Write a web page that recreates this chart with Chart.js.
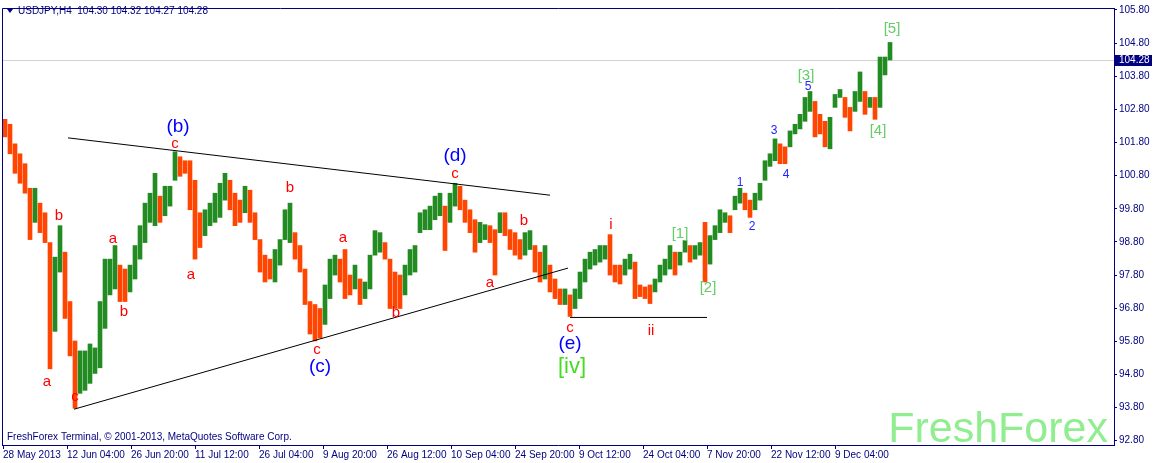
<!DOCTYPE html>
<html>
<head>
<meta charset="utf-8">
<script src="https://cdn.jsdelivr.net/npm/chart.js@4.4.0/dist/chart.umd.min.js"></script>
<style>
  html, body { margin: 0; padding: 0; background: #fff; }
  canvas { display: block; }
</style>
</head>
<body>
<canvas id="chart" width="1154" height="463"></canvas>
<script>
// USDJPY H4, each entry = one block of 5 bars (high / low)
const highs = [
  102.50, 102.35, 101.76, 101.46, 101.16, 100.42, 100.42, 99.97, 99.68, 98.78,
  98.34, 99.29, 98.49, 97.00, 95.81, 95.51, 95.51, 95.72, 95.60, 97.00,
  98.28, 98.28, 98.69, 98.10, 97.98, 98.10, 98.69, 99.29, 99.97, 100.27,
  100.87, 100.18, 100.48, 100.48, 101.52, 101.37, 101.25, 101.25, 100.66, 99.68,
  99.77, 99.97, 100.27, 100.57, 100.87, 100.66, 100.27, 100.06, 100.48, 100.36,
  99.68, 98.87, 98.40, 98.28, 98.57, 98.87, 99.77, 99.97, 99.08, 98.69,
  97.98, 97.00, 96.91, 96.79, 97.50, 98.28, 98.40, 98.28, 98.57, 97.80,
  98.10, 97.68, 97.59, 98.40, 99.14, 99.08, 98.78, 98.28, 97.89, 97.80,
  98.10, 98.57, 98.69, 99.68, 99.77, 99.88, 100.18, 100.27, 99.88, 100.27,
  100.57, 100.48, 100.06, 99.77, 99.47, 99.39, 99.32, 99.29, 99.17, 99.68,
  99.68, 99.17, 99.08, 98.87, 99.08, 99.14, 98.69, 98.49, 98.69, 98.10,
  97.68, 97.38, 97.38, 97.20, 97.38, 97.89, 98.28, 98.49, 98.57, 98.69,
  98.69, 99.02, 98.10, 98.10, 98.28, 98.43, 98.19, 97.50, 97.44, 97.50,
  97.68, 98.10, 98.28, 98.69, 98.49, 98.49, 98.84, 98.69, 98.69, 98.78,
  99.39, 98.99, 99.29, 99.77, 99.68, 99.59, 100.18, 100.42, 100.27, 100.06,
  100.27, 100.57, 101.25, 101.46, 101.91, 101.76, 101.67, 102.15, 102.35, 102.65,
  103.16, 103.34, 103.04, 102.65, 102.44, 102.56, 103.25, 103.40, 103.16, 102.86,
  103.34, 103.93, 103.34, 103.16, 103.16, 104.38, 104.38, 104.82
];
const lows = [
  101.97, 101.46, 100.87, 100.57, 100.27, 98.87, 99.39, 99.08, 98.78, 94.97,
  96.10, 97.89, 96.49, 95.36, 93.78, 94.23, 94.32, 94.53, 94.83, 95.00,
  96.19, 97.20, 97.38, 97.00, 97.00, 97.29, 97.68, 98.28, 98.78, 99.39,
  99.29, 99.39, 99.59, 99.88, 100.66, 100.78, 100.87, 99.77, 98.28, 98.63,
  98.99, 99.29, 99.39, 99.54, 100.06, 99.77, 99.29, 99.39, 99.68, 99.39,
  98.87, 97.89, 97.59, 97.68, 97.59, 98.10, 98.87, 98.78, 98.28, 97.89,
  96.91, 96.02, 95.81, 95.90, 96.31, 97.09, 97.80, 97.59, 97.09, 97.20,
  97.38, 96.91, 97.09, 97.38, 98.40, 98.49, 98.28, 96.79, 96.79, 96.79,
  97.20, 97.80, 97.89, 99.08, 99.17, 99.17, 99.47, 99.59, 98.54, 99.39,
  99.88, 99.77, 99.39, 99.08, 98.49, 98.78, 98.87, 98.78, 97.80, 99.08,
  98.99, 98.57, 98.40, 98.28, 98.40, 98.57, 97.89, 97.59, 97.68, 97.29,
  97.09, 96.91, 96.91, 96.55, 96.79, 97.09, 97.59, 97.98, 98.10, 98.19,
  98.28, 97.80, 97.59, 97.53, 97.80, 97.98, 97.09, 97.15, 97.09, 96.94,
  97.29, 97.59, 97.80, 97.98, 97.80, 98.10, 98.49, 98.19, 98.28, 98.40,
  97.59, 98.13, 98.87, 99.08, 99.39, 99.08, 99.77, 99.97, 99.77, 99.54,
  99.77, 100.06, 100.66, 101.08, 101.25, 101.16, 101.16, 101.67, 102.06, 102.21,
  102.44, 102.74, 101.97, 102.06, 101.67, 101.61, 102.86, 103.16, 102.56, 102.15,
  102.74, 103.04, 102.65, 102.86, 102.50, 102.86, 103.84, 104.29
];

const tickBars = [1, 65, 129, 193, 257, 321, 385, 449, 513, 577, 641, 705, 769, 833];
const tickLabels = [
  "28 May 2013", "12 Jun 04:00", "26 Jun 20:00", "11 Jul 12:00", "26 Jul 04:00",
  "9 Aug 20:00", "26 Aug 12:00", "10 Sep 04:00", "24 Sep 20:00", "9 Oct 12:00",
  "24 Oct 04:00", "7 Nov 20:00", "22 Nov 12:00", "9 Dec 04:00"
];
const priceTicks = [92.8, 93.8, 94.8, 95.8, 96.8, 97.8, 98.8, 99.8, 100.8, 101.8, 102.8, 103.8, 104.8, 105.8];

const quote = ["104.30", "104.32", "104.27", "104.28"];
const lastPrice = 104.28;

// wave marks: text, bar, price, kind
const waveLabels = [
  ["a", 45, 94.59, "minor"], ["b", 57, 99.59, "minor"], ["c", 73, 94.11, "minor"],
  ["(a)", 73, 92.38, "inter"],
  ["a", 111, 98.90, "minor"], ["b", 122, 96.70, "minor"],
  ["c", 173, 101.76, "minor"], ["(b)", 176, 102.29, "inter"],
  ["a", 189, 97.80, "minor"], ["b", 288, 100.42, "minor"], ["a", 341, 98.93, "minor"],
  ["c", 315, 95.54, "minor"], ["(c)", 318, 95.03, "inter"],
  ["b", 394, 96.67, "minor"],
  ["c", 453, 100.84, "minor"], ["(d)", 453, 101.40, "inter"],
  ["a", 488, 97.56, "minor"], ["b", 522, 99.44, "minor"],
  ["c", 568, 96.22, "minor"], ["(e)", 568, 95.72, "inter"], ["[iv]", 570, 95.03, "primary"],
  ["i", 609, 99.32, "minor"], ["ii", 649, 96.13, "minor"],
  ["[1]", 678, 99.05, "major"], ["[2]", 706, 97.41, "major"],
  ["1", 738, 100.60, "sub"], ["2", 750, 99.26, "sub"], ["3", 772, 102.15, "sub"],
  ["4", 784, 100.84, "sub"], ["5", 806, 103.48, "sub"],
  ["[3]", 804, 103.81, "major"], ["[4]", 876, 102.15, "major"], ["[5]", 890, 105.24, "major"]
];

// triangle and base lines: bar1, price1, bar2, price2
const trendLines = [
  [66, 101.94, 548, 100.21],
  [72, 93.75, 566, 98.01],
  [568, 96.52, 705, 96.52]
];

const labelStyles = {
  minor: { color: "#ff0000", font: "15px 'Liberation Sans', Arial, sans-serif" },
  inter: { color: "#0000ff", font: "19px 'Liberation Sans', Arial, sans-serif" },
  primary: { color: "#44dd22", font: "22px 'Liberation Sans', Arial, sans-serif" },
  major: { color: "#66cc66", font: "15px 'Liberation Sans', Arial, sans-serif" },
  sub: { color: "#2222ff", font: "12px 'Liberation Sans', Arial, sans-serif" }
};

const NAVY = "#000080";
const UP = "#228b22";
const DOWN = "#ff4500";

const points = highs.map((h, i) => ({ x: 5 * i + 3, y: [lows[i], h] }));
const colors = highs.map((h, i) => {
  if (i === 0) return DOWN;
  const mid = (h + lows[i]) / 2;
  const prev = (highs[i - 1] + lows[i - 1]) / 2;
  return mid >= prev ? UP : DOWN;
});

const overlay = {
  id: "overlay",
  beforeDraw(chart) {
    const ctx = chart.ctx;
    ctx.save();
    ctx.fillStyle = "#ffffff";
    ctx.fillRect(0, 0, chart.width, chart.height);
    ctx.restore();
  },
  beforeDatasetsDraw(chart) {
    const { ctx, chartArea, scales } = chart;
    ctx.save();
    // current price line
    const py = Math.round(scales.y.getPixelForValue(lastPrice)) + 0.5;
    ctx.strokeStyle = "#d3d3d3";
    ctx.lineWidth = 1;
    ctx.beginPath();
    ctx.moveTo(chartArea.left, py);
    ctx.lineTo(chartArea.right, py);
    ctx.stroke();
    // watermark
    ctx.fillStyle = "#90ee90";
    ctx.font = "43px 'Liberation Sans', Arial, sans-serif";
    ctx.textAlign = "right";
    ctx.textBaseline = "alphabetic";
    ctx.fillText("FreshForex", chartArea.right - 6, chartArea.bottom - 3);
    ctx.restore();
  },
  afterDatasetsDraw(chart) {
    const { ctx, chartArea, scales } = chart;
    const xs = scales.x, ys = scales.y;
    ctx.save();
    ctx.beginPath();
    ctx.rect(chartArea.left, chartArea.top, chartArea.right - chartArea.left, chartArea.bottom - chartArea.top);
    ctx.clip();

    ctx.strokeStyle = "#000000";
    ctx.lineWidth = 1;
    trendLines.forEach(([b1, p1, b2, p2]) => {
      ctx.beginPath();
      ctx.moveTo(xs.getPixelForValue(b1), ys.getPixelForValue(p1));
      ctx.lineTo(xs.getPixelForValue(b2), ys.getPixelForValue(p2));
      ctx.stroke();
    });

    ctx.textAlign = "center";
    ctx.textBaseline = "middle";
    waveLabels.forEach(([text, bar, price, kind]) => {
      const st = labelStyles[kind];
      ctx.fillStyle = st.color;
      ctx.font = st.font;
      ctx.fillText(text, xs.getPixelForValue(bar), ys.getPixelForValue(price));
    });
    ctx.restore();

    ctx.save();
    // title
    ctx.fillStyle = NAVY;
    ctx.beginPath();
    ctx.moveTo(7, 9);
    ctx.lineTo(13, 9);
    ctx.lineTo(10, 13);
    ctx.closePath();
    ctx.fill();
    ctx.font = "10px 'Liberation Sans', Arial, sans-serif";
    ctx.textAlign = "left";
    ctx.textBaseline = "middle";
    ctx.fillText("USDJPY,H4  " + quote.join(" "), 18, 11);
    ctx.fillText("FreshForex Terminal, \u00a9 2001-2013, MetaQuotes Software Corp.", 7, 437);
    // frame top / left
    ctx.strokeStyle = NAVY;
    ctx.lineWidth = 1;
    ctx.beginPath();
    ctx.moveTo(chartArea.left + 0.5, chartArea.bottom);
    ctx.lineTo(chartArea.left + 0.5, chartArea.top + 0.5);
    ctx.lineTo(chartArea.right, chartArea.top + 0.5);
    ctx.stroke();
    ctx.restore();
  },
  afterDraw(chart) {
    const { ctx, chartArea, scales } = chart;
    const py = scales.y.getPixelForValue(lastPrice);
    ctx.save();
    ctx.fillStyle = NAVY;
    ctx.fillRect(chartArea.right + 1, Math.round(py) - 5, 37, 11);
    ctx.fillStyle = "#ffffff";
    ctx.font = "10px 'Liberation Sans', Arial, sans-serif";
    ctx.textAlign = "left";
    ctx.textBaseline = "middle";
    ctx.fillText(lastPrice.toFixed(2), chartArea.right + 5, Math.round(py) + 0.5);
    ctx.restore();
  }
};

new Chart(document.getElementById("chart"), {
  type: "bar",
  data: {
    datasets: [{
      label: "USDJPY,H4",
      data: points,
      backgroundColor: colors,
      borderWidth: 0,
      barThickness: 4,
      grouped: false
    }]
  },
  options: {
    responsive: false,
    animation: false,
    devicePixelRatio: 1,
    layout: { padding: { left: 2, top: 2, right: 0, bottom: 0 } },
    plugins: { legend: { display: false }, tooltip: { enabled: false } },
    scales: {
      x: {
        type: "linear",
        offset: false,
        min: 0,
        max: 1112,
        afterBuildTicks: (scale) => { scale.ticks = tickBars.map((v) => ({ value: v })); },
        afterFit: (scale) => { scale.height = 18; },
        ticks: {
          callback: (value, index) => tickLabels[index],
          align: "start",
          autoSkip: false,
          maxRotation: 0,
          padding: 0,
          color: NAVY,
          font: { family: "'Liberation Sans', Arial, sans-serif", size: 10 }
        },
        grid: { drawOnChartArea: false, offset: false, color: NAVY, tickLength: 4 },
        border: { color: NAVY }
      },
      y: {
        position: "right",
        min: 92.67,
        max: 105.86,
        afterBuildTicks: (scale) => { scale.ticks = priceTicks.map((v) => ({ value: v })); },
        afterFit: (scale) => { scale.width = 40; },
        ticks: {
          callback: (value) => value.toFixed(2),
          padding: 2,
          color: NAVY,
          font: { family: "'Liberation Sans', Arial, sans-serif", size: 10 }
        },
        grid: { drawOnChartArea: false, color: NAVY, tickLength: 3 },
        border: { color: NAVY }
      }
    }
  },
  plugins: [overlay]
});
</script>
</body>
</html>
